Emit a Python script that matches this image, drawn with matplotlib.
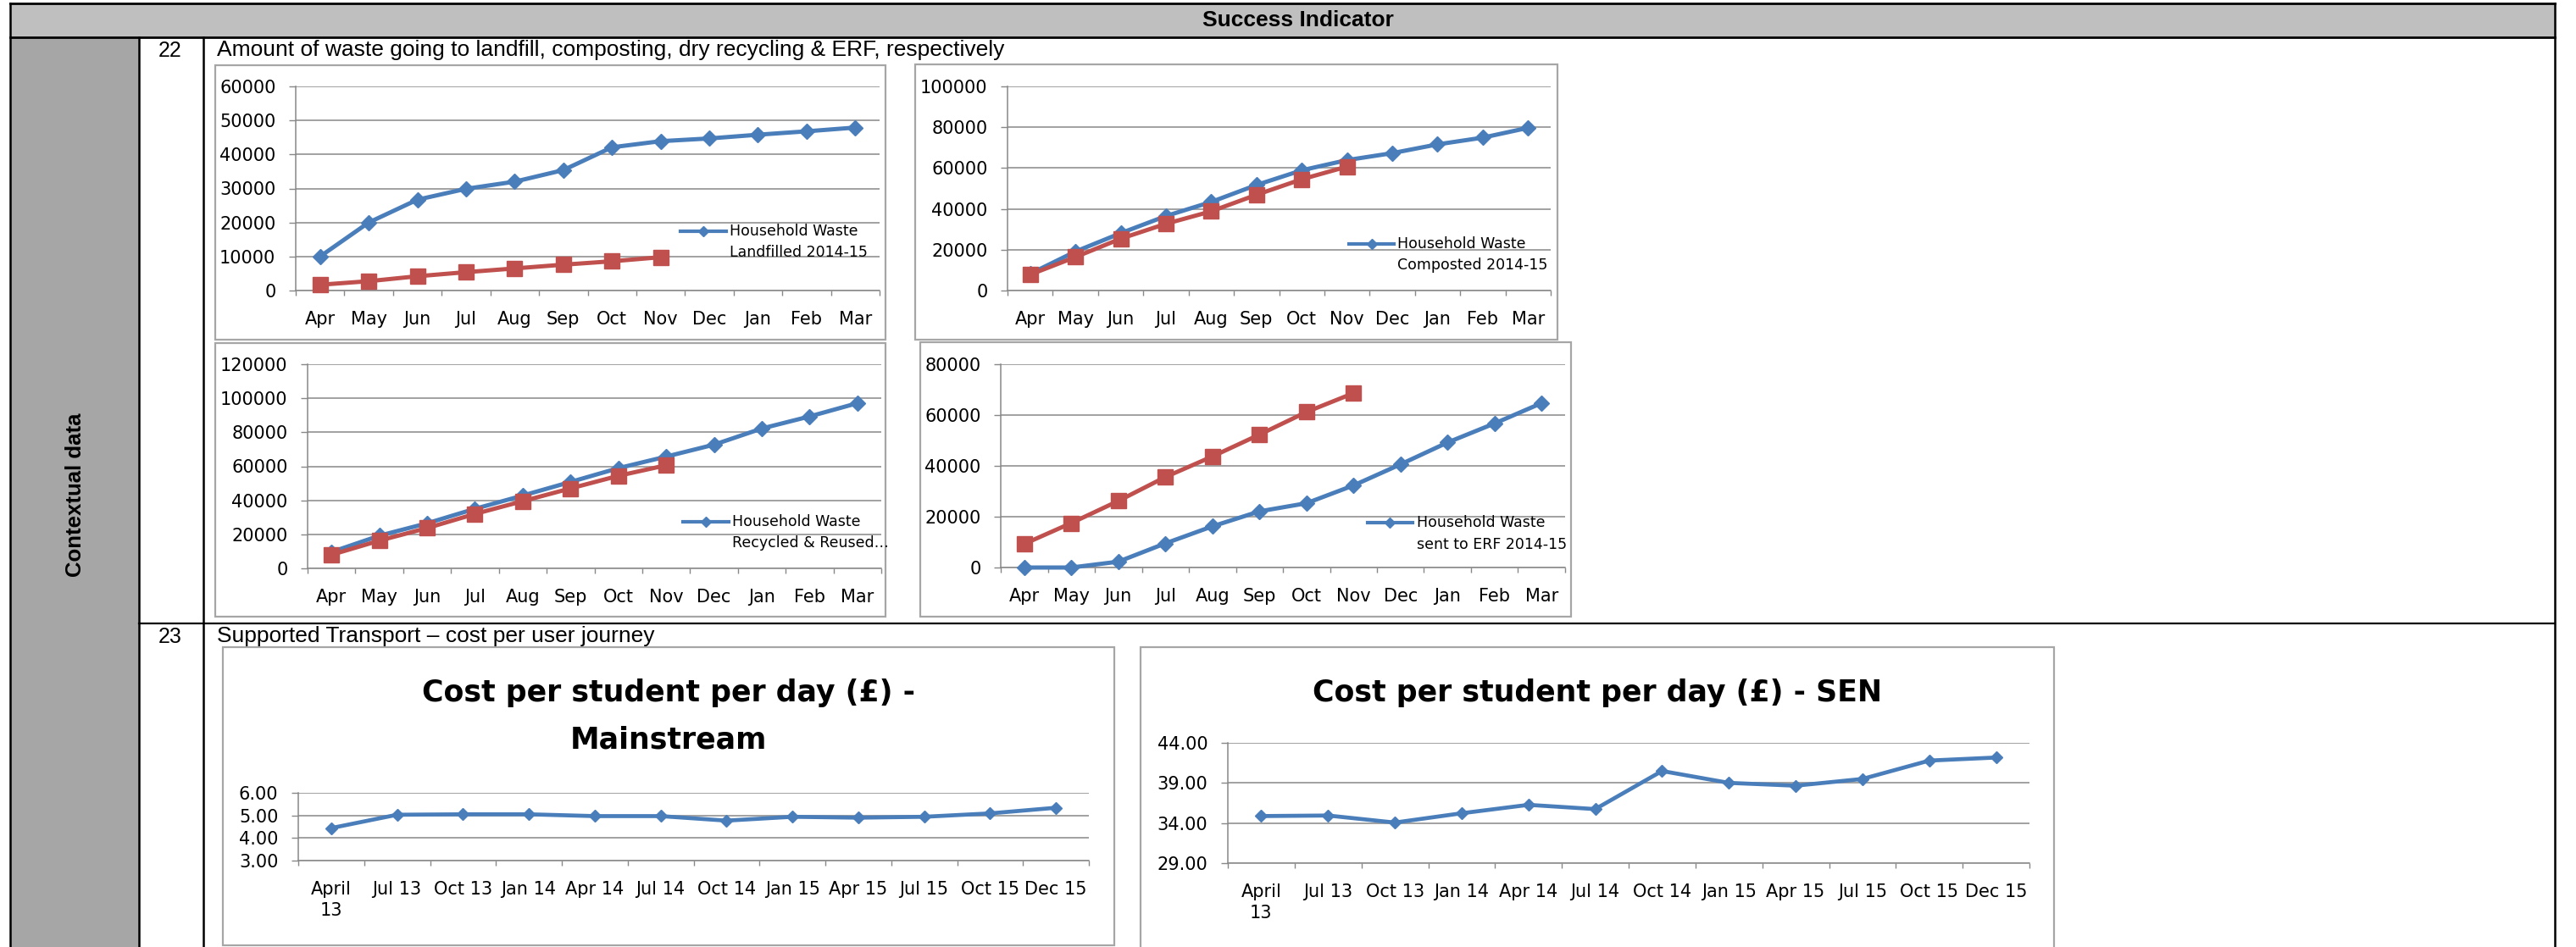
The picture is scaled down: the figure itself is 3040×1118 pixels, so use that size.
import matplotlib
matplotlib.use("Agg")
import matplotlib.pyplot as plt
from matplotlib.lines import Line2D
from matplotlib.patches import Rectangle
from matplotlib.ticker import FixedLocator, FormatStrFormatter

W, H = 3040, 1118

# ---- data ----
months = ["Apr", "May", "Jun", "Jul", "Aug", "Sep", "Oct", "Nov", "Dec", "Jan", "Feb", "Mar"]

landfill_1415 = [10000, 20000, 26700, 29900, 32000, 35400, 42100, 43900, 44700, 45800, 46800, 47900]
landfill_1516 = [1700, 2750, 4200, 5400, 6500, 7600, 8600, 9800]

composted_1415 = [8200, 19100, 28100, 36500, 43400, 51700, 58900, 63900, 67300, 71600, 74900, 79700]
composted_1516 = [7800, 16400, 25400, 32700, 38800, 46900, 54500, 60700]

recycled_1415 = [9600, 19200, 26500, 35000, 42800, 50800, 58900, 65700, 72700, 82200, 89300, 97100]
recycled_1516 = [8000, 16300, 23700, 32000, 39500, 47000, 54400, 60600]

erf_1415 = [0, 0, 2300, 9500, 16200, 22100, 25300, 32300, 40600, 49200, 56700, 64700]
erf_1516 = [9300, 17500, 26200, 35600, 43700, 52300, 61200, 68600]

quarters = ["April\n13", "Jul 13", "Oct 13", "Jan 14", "Apr 14", "Jul 14", "Oct 14",
            "Jan 15", "Apr 15", "Jul 15", "Oct 15", "Dec 15"]
mainstream_cost = [4.44, 5.03, 5.05, 5.05, 4.97, 4.97, 4.77, 4.94, 4.90, 4.94, 5.09, 5.34]
sen_cost = [34.87, 34.94, 34.06, 35.22, 36.27, 35.74, 40.49, 39.01, 38.66, 39.50, 41.79, 42.17]

BLUE = "#4a7ebb"
RED = "#c0504d"
GRID = "#888888"

plt.rcParams['font.family'] = ['DejaVu Sans']

fig = plt.figure(figsize=(W / 100, H / 100), dpi=100)


def fx(x):
    return x / W


def fy(y):
    return 1 - y / H


def line(x0, y0, x1, y1, color="black", lw=1.6):
    fig.add_artist(Line2D([fx(x0), fx(x1)], [fy(y0), fy(y1)], transform=fig.transFigure,
                          color=color, lw=lw, solid_capstyle="projecting"))


def rect(x0, y0, x1, y1, fc="none", ec="none", lw=1.0, z=0):
    fig.add_artist(Rectangle((fx(x0), fy(y1)), (x1 - x0) / W, (y1 - y0) / H,
                             transform=fig.transFigure, fc=fc, ec=ec, lw=lw, zorder=z))


def px_axes(x0, y0, x1, y1):
    ax = fig.add_axes([fx(x0), fy(y1), (x1 - x0) / W, (y1 - y0) / H])
    ax.patch.set_alpha(0)
    return ax


def style(ax, labels, ylim, yticks, fmt, fs=15):
    n = len(labels)
    ax.set_xlim(-0.5, n - 0.5)
    ax.set_ylim(*ylim)
    ax.set_xticks(range(n))
    ax.set_xticklabels(labels, fontsize=fs, linespacing=1.35)
    ax.xaxis.set_minor_locator(FixedLocator([i - 0.5 for i in range(n + 1)]))
    ax.tick_params(axis="x", which="major", length=0, pad=17)
    ax.tick_params(axis="x", which="minor", length=4.5, width=1, color=GRID, direction="out")
    ax.set_yticks(yticks)
    ax.yaxis.set_major_formatter(FormatStrFormatter(fmt))
    ax.tick_params(axis="y", length=6, width=1, color=GRID, pad=11, labelsize=fs)
    ax.grid(axis="y", color=GRID, lw=1.1)
    ax.set_axisbelow(True)
    for s in ["top", "right"]:
        ax.spines[s].set_visible(False)
    for s in ["left", "bottom"]:
        ax.spines[s].set_color(GRID)
        ax.spines[s].set_linewidth(1.1)


def legend(x0, x1, y, text_x, lines):
    fig.add_artist(Line2D([fx(x0), fx(x1)], [fy(y), fy(y)], transform=fig.transFigure,
                          color=BLUE, lw=3))
    fig.add_artist(Line2D([fx((x0 + x1) / 2)], [fy(y)], transform=fig.transFigure,
                          color=BLUE, marker="D", ms=6, lw=0))
    for i, t in enumerate(lines):
        fig.text(fx(text_x), fy(y + i * 25.5), t, fontsize=12.5, va="center", ha="left")


# ---- table frame ----
rect(12, 4, 3015, 44, fc="#bfbfbf")
rect(12, 44, 164, 1130, fc="#a6a6a6")
line(12, 4, 3015, 4, lw=2)
line(12, 44, 3015, 44, lw=2)
line(164, 736, 3015, 736, lw=1.6)
line(12, 4, 12, 1130, lw=1.8)
line(3015, 4, 3015, 1130, lw=1.8)
for xv in [164, 240]:
    line(xv, 44, xv, 1130, lw=1.8)

fig.text(fx(1532), fy(24), "Success Indicator", family="Liberation Sans", weight="bold",
         fontsize=19, ha="center", va="center")
fig.text(fx(89), fy(584), "Contextual data", family="Liberation Sans", weight="bold",
         fontsize=18.5, ha="center", va="center", rotation=90)
fig.text(fx(201), fy(67), "22", family="Liberation Sans", fontsize=18, ha="center", va="baseline")
fig.text(fx(201), fy(759), "23", family="Liberation Sans", fontsize=18, ha="center", va="baseline")
fig.text(fx(256), fy(66), "Amount of waste going to landfill, composting, dry recycling & ERF, respectively",
         family="Liberation Sans", fontsize=19, ha="left", va="baseline")
fig.text(fx(256), fy(758), "Supported Transport \u2013 cost per user journey",
         family="Liberation Sans", fontsize=19, ha="left", va="baseline")

# ---- chart boxes ----
for b in [(254, 77, 1045, 401), (1080, 76, 1838, 401), (254, 405, 1045, 728),
          (1086, 404, 1854, 728), (263, 764, 1315, 1116), (1346, 764, 2424, 1130)]:
    rect(*b, ec="#a6a6a6", lw=1.6, z=1)

# ---- waste charts ----
waste = [
    ((349, 102, 1038, 343), landfill_1415, landfill_1516, (0, 60000), range(0, 60001, 10000),
     (803, 857, 273, 861, ["Household Waste", "Landfilled 2014-15"])),
    ((1189, 102, 1830, 343), composted_1415, composted_1516, (0, 100000), range(0, 100001, 20000),
     (1592, 1645, 288, 1649, ["Household Waste", "Composted 2014-15"])),
    ((363, 430, 1040, 671), recycled_1415, recycled_1516, (0, 120000), range(0, 120001, 20000),
     (806, 860, 616, 864, ["Household Waste", "Recycled & Reused\u2026"])),
    ((1181, 430, 1847, 670), erf_1415, erf_1516, (0, 80000), range(0, 80001, 20000),
     (1614, 1667, 617, 1672, ["Household Waste", "sent to ERF 2014-15"])),
]
for pos, blue_vals, red_vals, ylim, yt, leg in waste:
    ax = px_axes(*pos)
    style(ax, months, ylim, list(yt), "%d")
    ax.plot(range(len(blue_vals)), blue_vals, color=BLUE, lw=3.6, marker="D", ms=9.5,
            clip_on=False, zorder=3)
    ax.plot(range(len(red_vals)), red_vals, color=RED, lw=3.6, marker="s", ms=13,
            clip_on=False, zorder=4)
    legend(*leg)

# ---- transport charts ----
ax5 = px_axes(352, 936, 1285, 1016)
style(ax5, quarters, (3, 6), [3, 4, 5, 6], "%.2f")
ax5.plot(range(len(mainstream_cost)), mainstream_cost, color=BLUE, lw=3.4, marker="D", ms=7.5,
         clip_on=False, zorder=3)
fig.text(fx(789), fy(818), "Cost per student per day (\u00a3) -", fontsize=25, weight="bold",
         ha="center", va="center")
fig.text(fx(789), fy(873), "Mainstream", fontsize=25, weight="bold", ha="center", va="center")

ax6 = px_axes(1449, 877, 2395, 1019)
style(ax6, quarters, (29, 44), [29, 34, 39, 44], "%.2f")
ax6.plot(range(len(sen_cost)), sen_cost, color=BLUE, lw=3.4, marker="D", ms=7.5,
         clip_on=False, zorder=3)
fig.text(fx(1885), fy(818), "Cost per student per day (\u00a3) - SEN", fontsize=25, weight="bold",
         ha="center", va="center")

fig.savefig("out.png", dpi=100)
